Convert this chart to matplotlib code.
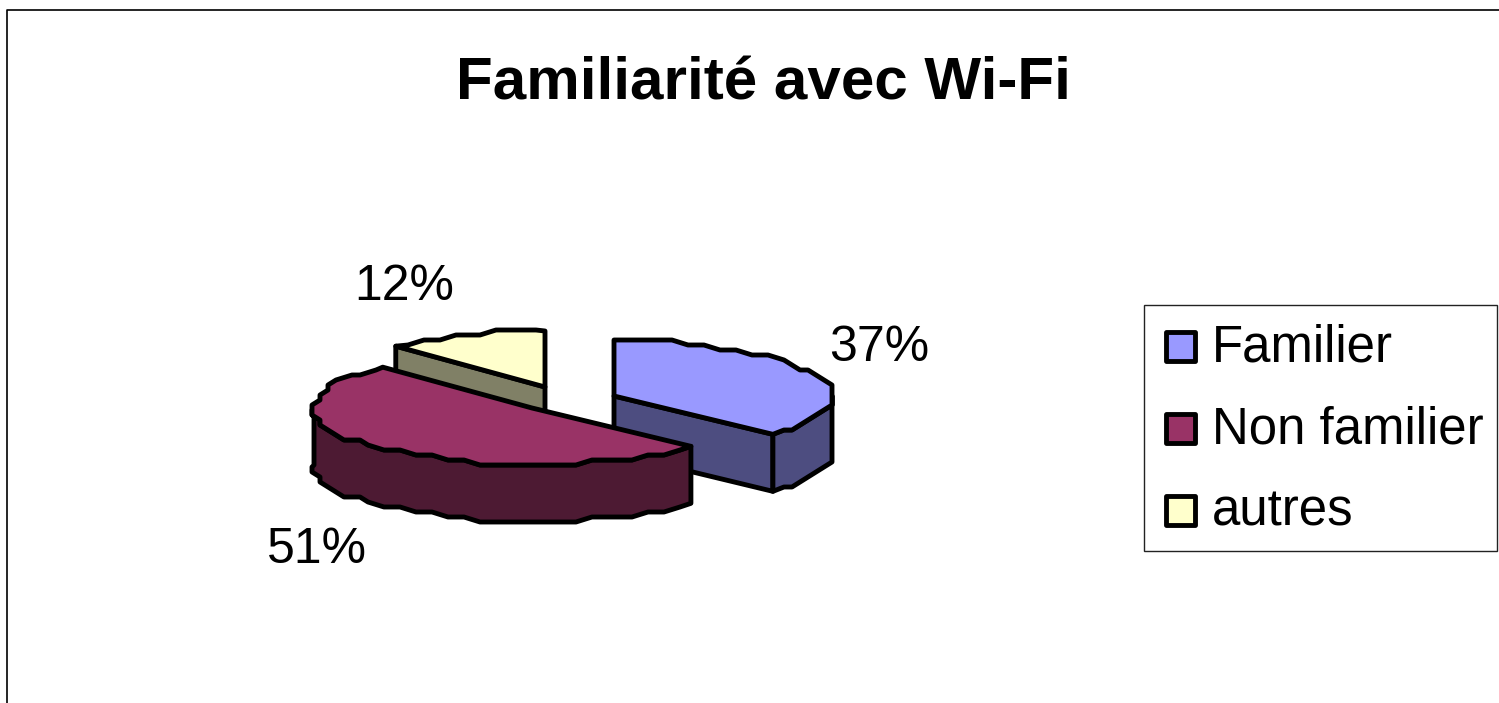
import numpy as np
import matplotlib
matplotlib.use('Agg')
import matplotlib.pyplot as plt
from matplotlib.patches import Polygon, Rectangle

title = 'Familiarité avec Wi-Fi'
labels = ['Familier', 'Non familier', 'autres']
values = [37, 51, 12]
top_colors = ['#9999FF', '#993366', '#FFFFCC']
side_colors = ['#4D4D80', '#4D1A33', '#808066']

# apex of each exploded slice, in pixels
centers = [(614, 396), (532, 408), (545, 387)]
label_pos = [(879, 361), (317, 563), (404, 300)]
rx, ry = 218, 56
depth = 57
lw = 3.5

plt.rcParams['font.family'] = ['Liberation Sans', 'DejaVu Sans']

fig = plt.figure(figsize=(14.99, 7.03), dpi=100)
ax = fig.add_axes([0, 0, 1, 1])
ax.set_xlim(0, 1499)
ax.set_ylim(703, 0)
ax.axis('off')


def arc(c, a0, a1):
    # angles clockwise from 12 o'clock, in degrees
    t = np.radians(np.arange(a0, a1, 5.0).tolist() + [a1])
    x = c[0] + rx * np.sin(t)
    y = c[1] - ry * np.cos(t)
    # coarse outline, the reference is faceted
    x[1:-1] = np.round(x[1:-1] / 8) * 8
    y[1:-1] = np.round(y[1:-1] / 5) * 5
    return np.column_stack([x, y])


def poly(pts, color, z):
    ax.add_patch(Polygon(pts, closed=True, fc=color, ec='black', lw=lw,
                         joinstyle='round', zorder=z))


# frame of the chart area, open on the right and at the bottom
ax.plot([7.5, 7.5, 1499], [703, 9.5, 9.5], color='black', lw=1.2, zorder=1)

angles = np.cumsum([0] + values) * 3.6
down = np.array([0, depth])

# yellow first, then blue, red is in front
for i, z in [(2, 2), (0, 4), (1, 6)]:
    a0, a1 = angles[i], angles[i + 1]
    c = np.array(centers[i], dtype=float)
    top = arc(c, a0, a1)
    # cut face turned to the viewer
    if i == 0:
        end = top[-1]
        poly([c, end, end + down, c + down], side_colors[i], z)
    if i == 2:
        start = top[0]
        poly([c, start, start + down, c + down], side_colors[i], z)
    # outer wall, front half of the ellipse only
    w0, w1 = max(a0, 90), min(a1, 270)
    if w1 > w0:
        wall = arc(c, w0, w1)
        poly(np.vstack([wall, wall[::-1] + down]), side_colors[i], z)
    poly(np.vstack([c[None, :], top]), top_colors[i], z + 1)

for i, txt in enumerate(values):
    ax.text(label_pos[i][0], label_pos[i][1], f'{txt}%', fontsize=36,
            ha='center', va='baseline', zorder=8)

ax.text(763, 100, title, fontsize=43.3, fontweight='bold', ha='center',
        va='baseline', zorder=8)

# legend
ax.add_patch(Rectangle((1144.5, 305), 352.5, 246, fc='white', ec='#222222',
                       lw=1.0, zorder=2))
legend_y = [346, 428, 510]
for lab, col, y in zip(labels, top_colors, legend_y):
    ax.add_patch(Rectangle((1166, y - 14), 29, 29, fc=col, ec='black', lw=lw,
                           joinstyle='round', zorder=3))
    ax.text(1212, y + 16, lab, fontsize=36.7, ha='left', va='baseline', zorder=3)

fig.savefig('out.png', dpi=100)
